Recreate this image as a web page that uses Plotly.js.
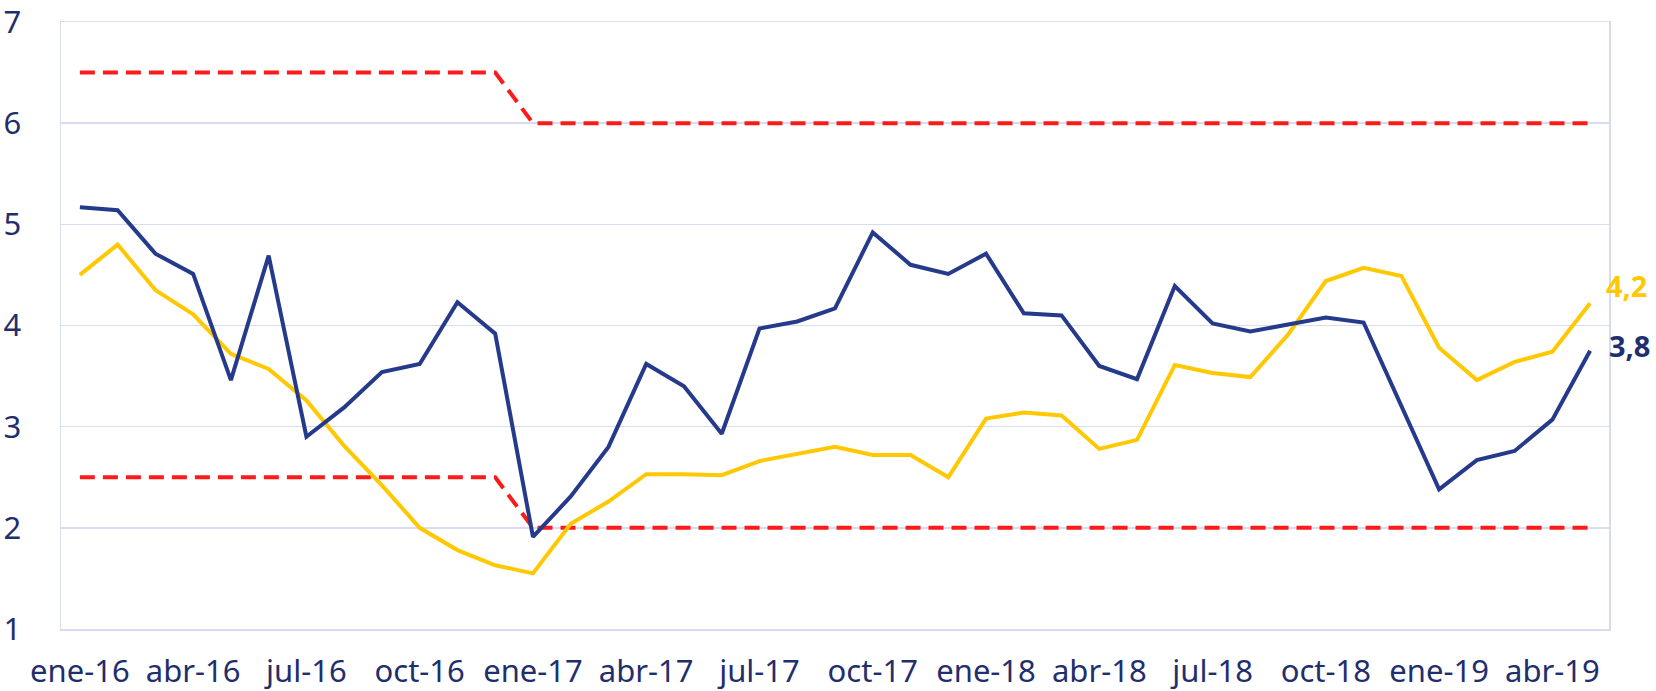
<!DOCTYPE html>
<html>
<head>
<meta charset="utf-8">
<script src="https://cdn.plot.ly/plotly-3.0.1.min.js"></script>
<style>html,body{margin:0;padding:0;background:#fff;}#chart{width:1656px;height:691px;}</style>
</head>
<body>
<div id="chart"></div>
<script>
const months = ["ene-16","feb-16","mar-16","abr-16","may-16","jun-16","jul-16","ago-16","sep-16","oct-16","nov-16","dic-16",
"ene-17","feb-17","mar-17","abr-17","may-17","jun-17","jul-17","ago-17","sep-17","oct-17","nov-17","dic-17",
"ene-18","feb-18","mar-18","abr-18","may-18","jun-18","jul-18","ago-18","sep-18","oct-18","nov-18","dic-18",
"ene-19","feb-19","mar-19","abr-19","may-19"];

const blueSeries = [5.17,5.14,4.71,4.51,3.46,4.69,2.90,3.19,3.54,3.62,4.23,3.92,
1.91,2.31,2.80,3.62,3.40,2.93,3.97,4.04,4.17,4.92,4.60,4.51,
4.71,4.12,4.10,3.60,3.47,4.39,4.02,3.94,4.01,4.08,4.03,3.21,
2.38,2.67,2.76,3.07,3.75];

const yellowSeries = [4.50,4.80,4.35,4.11,3.72,3.57,3.26,2.81,2.42,2.00,1.78,1.63,
1.55,2.04,2.26,2.53,2.53,2.52,2.66,2.73,2.80,2.72,2.72,2.50,
3.08,3.14,3.11,2.78,2.87,3.61,3.53,3.49,3.91,4.44,4.57,4.49,
3.78,3.46,3.64,3.74,4.22];

const upperBand = [6.5,6.5,6.5,6.5,6.5,6.5,6.5,6.5,6.5,6.5,6.5,6.5,
6,6,6,6,6,6,6,6,6,6,6,6,
6,6,6,6,6,6,6,6,6,6,6,6,
6,6,6,6,6];

const lowerBand = [2.5,2.5,2.5,2.5,2.5,2.5,2.5,2.5,2.5,2.5,2.5,2.5,
2,2,2,2,2,2,2,2,2,2,2,2,
2,2,2,2,2,2,2,2,2,2,2,2,
2,2,2,2,2];

const tickLabels = ["ene-16","abr-16","jul-16","oct-16","ene-17","abr-17","jul-17","oct-17","ene-18","abr-18","jul-18","oct-18","ene-19","abr-19"];
const yTicks = [1,2,3,4,5,6,7];

const lastBlueLabel = "3,8";
const lastYellowLabel = "4,2";

const blue = "#253a8a";
const yellow = "#ffc800";
const red = "#ff1a1a";
const grid = "#d8dcf3";
const textColor = "#1f2e6c";

const traces = [
  {x: months, y: upperBand, type: "scatter", mode: "lines", line: {color: red, width: 4, dash: "15px,8px"}, hoverinfo: "skip"},
  {x: months, y: lowerBand, type: "scatter", mode: "lines", line: {color: red, width: 4, dash: "15px,8px"}, hoverinfo: "skip"},
  {x: months, y: yellowSeries, type: "scatter", mode: "lines", line: {color: yellow, width: 4}},
  {x: months, y: blueSeries, type: "scatter", mode: "lines", line: {color: blue, width: 4}}
];

const layout = {
  width: 1656, height: 691,
  margin: {l: 61, r: 47, t: 22, b: 62},
  paper_bgcolor: "#ffffff", plot_bgcolor: "#ffffff",
  showlegend: false,
  font: {family: "Noto Sans, Open Sans, sans-serif", size: 31, color: textColor},
  xaxis: {
    type: "category", categoryorder: "array", categoryarray: months,
    range: [-0.5, months.length - 0.5],
    tickmode: "array", tickvals: tickLabels, ticktext: tickLabels,
    showgrid: false, zeroline: false,
    showline: true, mirror: true, linecolor: grid, linewidth: 1.5,
    ticks: "", ticklabelstandoff: 14,
    tickfont: {size: 31, color: textColor}
  },
  yaxis: {
    range: [1, 7], tickmode: "array", tickvals: yTicks,
    showgrid: true, gridcolor: grid, gridwidth: 1.5, zeroline: false,
    showline: true, mirror: true, linecolor: grid, linewidth: 1.5,
    ticks: "", ticklabelstandoff: 32, ticklabeloverflow: "allow",
    tickfont: {size: 31, color: textColor}
  },
  annotations: [
    {x: months[months.length-1], y: 4.40, xref: "x", yref: "y", text: "<b>" + lastYellowLabel + "</b>", showarrow: false, xanchor: "left", xshift: 14, font: {size: 29, color: yellow, family: "Noto Sans, sans-serif"}},
    {x: months[months.length-1], y: 3.80, xref: "x", yref: "y", text: "<b>" + lastBlueLabel + "</b>", showarrow: false, xanchor: "left", xshift: 17, font: {size: 29, color: textColor, family: "Noto Sans, sans-serif"}}
  ]
};

Plotly.newPlot("chart", traces, layout, {displayModeBar: false, staticPlot: true});
</script>
</body>
</html>
